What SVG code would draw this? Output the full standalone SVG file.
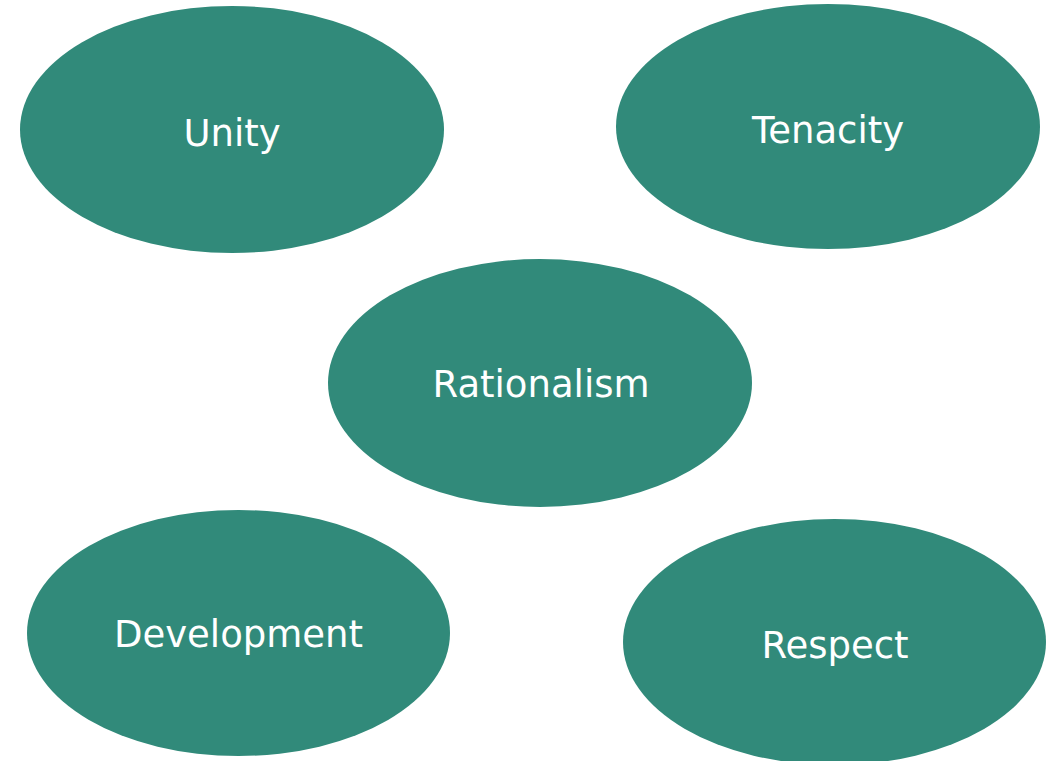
<svg xmlns="http://www.w3.org/2000/svg" width="1049" height="761" viewBox="0 0 1049 761">
<style>
.n{fill:#318a7a}
.t{fill:#ffffff;font-family:"DejaVu Sans",sans-serif;font-size:37px;text-anchor:middle}
</style>
<rect width="1049" height="761" fill="#ffffff"/>
<g id="unity"><ellipse class="n" cx="232" cy="129.5" rx="212" ry="123.5"/><text class="t" x="232" y="146">Unity</text></g>
<g id="tenacity"><ellipse class="n" cx="828" cy="126.5" rx="212" ry="122.5"/><text class="t" x="828" y="143">Tenacity</text></g>
<g id="rationalism"><ellipse class="n" cx="540" cy="383" rx="212" ry="124"/><text class="t" x="541" y="397">Rationalism</text></g>
<g id="development"><ellipse class="n" cx="238.5" cy="633" rx="211.5" ry="123"/><text class="t" x="238.5" y="647">Development</text></g>
<g id="respect"><ellipse class="n" cx="834.5" cy="642" rx="211.5" ry="123"/><text class="t" x="835" y="658">Respect</text></g>
<g id="connectors"></g>
</svg>
